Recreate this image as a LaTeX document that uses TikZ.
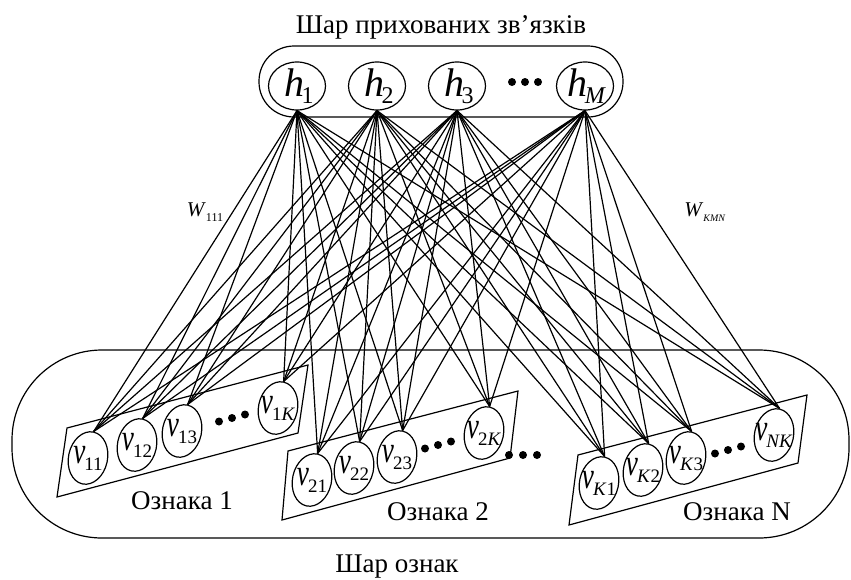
\documentclass[tikz,border=0pt]{standalone}
\usepackage{fontspec}
\setmainfont{Liberation Serif}
\usetikzlibrary{shapes.geometric}

\newcommand{\hlab}[1]{\fontsize{20}{20}\selectfont\textit{h}\kern-1.5pt\raisebox{-3.5pt}{\fontsize{12}{12}\selectfont #1}}
\newcommand{\vlab}[1]{\scalebox{0.8}[1.1]{\fontsize{17}{17}\selectfont\textit{v}}\kern-0.5pt\raisebox{-3.5pt}{\fontsize{9.5}{9.5}\selectfont #1}}

\tikzset{
    % node styles
    hidden/.style = {ellipse, draw, line width=0.6pt, minimum width=28.5pt, minimum height=24pt, inner sep=0pt},
    visible/.style = {ellipse, draw, line width=0.6pt, rotate=-12, minimum width=19.5pt, minimum height=26.5pt, inner sep=0pt},
    caption/.style = {font=\fontsize{13.5}{16}\selectfont, inner sep=0pt},
    weight/.style = {font=\fontsize{10.5}{12}\selectfont, inner sep=0pt},
    % line styles
    link/.style = {line width=0.6pt},
    layer/.style = {draw, line width=0.6pt}
}

\begin{document}
\begin{tikzpicture}[x=0.5pt, y=-0.5pt]
    \useasboundingbox (0,0) rectangle (851,579);

    % the two layers
    \draw[layer, rounded corners=17.5pt] (259,46) rectangle (623,117);
    \draw[layer, rounded corners=45pt] (12,350) rectangle (849,538);
    \node[caption] (toplayer) at (441,27) {Шар прихованих зв’язків};
    \node[caption] (botlayer) at (397,567) {Шар ознак};

    % hidden units
    \foreach \hn/\x/\s in {h1/297/1, h2/377/2, h3/457/3, hM/585/\textit{M}} {
        \node[hidden] (\hn) at (\x,86) {};
        \node[inner sep=0pt] (\hn-text) at ([xshift=1pt]\hn) {\hlab{\s}};
    }
    \foreach \k in {-1,0,1}
        \fill (525+13*\k,82) circle (2pt);

    % feature groups
    \draw[layer] (57,497) -- (67,428) -- (308,365) -- (298,433) -- cycle;
    \draw[layer] (282,520) -- (288,451) -- (518,391) -- (510,458) -- cycle;
    \draw[layer] (569,525) -- (578,455) -- (807,395) -- (798,463) -- cycle;

    \foreach \vn/\x/\y/\s in {v11/88/458/11, v12/137/445/12, v13/182/431/13, v1K/278/408/1\textit{K},
                             v21/312/480/21, v22/354/468/22, v23/397/457/23, v2K/484/433/2\textit{K},
                             vK1/599/483/\textit{K}1, vK2/643/470/\textit{K}2, vK3/686/458/\textit{K}3, vNK/774/435/\textit{NK}} {
        \node[visible] (\vn) at (\x,\y) {};
        \node[inner sep=0pt] (\vn-text) at (\vn) {\vlab{\s}};
    }
    \foreach \x/\y in {232/418, 438/445, 728/450}
        \foreach \k in {-1,0,1}
            \fill (\x+13*\k,\y-3.5*\k) circle (2pt);
    \foreach \k in {-1,0,1}
        \fill (523+14*\k,455) circle (2pt);

    \node[caption] (feat1) at (182,501) {Ознака 1};
    \node[caption] (feat2) at (438,512) {Ознака 2};
    \node[caption] (featN) at (737,512) {Ознака N};

    % every hidden unit is tied to every feature value
    \foreach \hn in {h1,h2,h3,hM}
        \foreach \vn in {v11,v12,v13,v1K,v21,v22,v23,v2K,vK1,vK2,vK3,vNK}
            \draw[link] (\hn.south) -- (\vn.north);

    \node[weight] (w111) at (205,212) {\textit{W}\raisebox{-2.5pt}{\fontsize{6}{6}\selectfont 111}};
    \node[weight] (wKMN) at (705,212) {\textit{W}\raisebox{-2.5pt}{\fontsize{5}{5}\selectfont\textit{KMN}}};
\end{tikzpicture}
\end{document}
